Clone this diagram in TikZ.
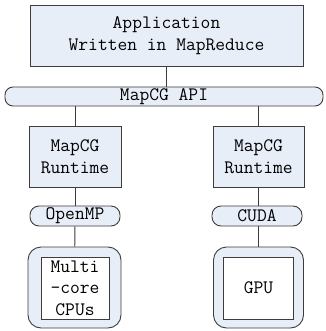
\documentclass[tikz,border=0pt]{standalone}
\usepackage{tikz}
\usepackage{xcolor}
\usetikzlibrary{positioning}
\usetikzlibrary{math}
\usetikzlibrary{calc}

\definecolor{boxfill}{RGB}{232,238,248}
\definecolor{boxline}{RGB}{60,60,60}

\tikzset{
  layer/.style={draw=boxline, fill=boxfill, line width=0.9pt, inner sep=0pt,
    align=center, font=\fontsize{19}{22}\selectfont\ttfamily},
  pill/.style={layer, rounded corners=9pt},
  device/.style={layer, rounded corners=13pt},
  chip/.style={draw=boxline, fill=white, line width=0.9pt, inner sep=0pt,
    align=center, font=\fontsize{19}{21.5}\selectfont\ttfamily},
  link/.style={draw=boxline, line width=0.9pt}
}

\begin{document}
\begin{tikzpicture}[x=1pt,y=-1pt]

  \tikzmath{
    \lx = 75;    % x of left column
    \rx = 258.5; % x of right column
  }

  \useasboundingbox (0,0) rectangle (325,331);

  % application and API
  \node[layer, minimum width=273pt, minimum height=61pt] (app) at (166.5,35.5)
  {Application\\Written in MapReduce};
  \node[layer, rounded corners=8pt, minimum width=318pt, minimum height=19pt] (api) at (164,96.5)
  {MapCG API};

  % runtimes
  \node[layer, minimum width=92pt, minimum height=61pt] (rtl) at (\lx,156.5) {MapCG\\Runtime};
  \node[layer, minimum width=91pt, minimum height=61pt] (rtr) at (\rx,156.5) {MapCG\\Runtime};

  % back ends
  \node[pill, minimum width=90pt, minimum height=20pt] (omp) at (\lx,216) {OpenMP};
  \node[pill, minimum width=90pt, minimum height=20pt] (cuda) at (257,216) {CUDA};

  % hardware
  \node[device, minimum width=93pt, minimum height=81pt] (cpubox) at (74.5,287.5) {};
  \node[chip, minimum width=68pt, minimum height=62pt] (cpu) at (\lx,288) {Multi\\-core\\CPUs};
  \node[device, minimum width=90pt, minimum height=81pt] (gpubox) at (\rx,287.5) {};
  \node[chip, minimum width=70pt, minimum height=62pt] (gpu) at (\rx,288) {GPU};

  % connectors
  \draw[link] (app.south) -- (app.south |- api.north);
  \draw[link] (rtl |- api.south) -- (rtl);
  \draw[link] (rtr |- api.south) -- (rtr);
  \draw[link] (rtl) -- (omp);
  \draw[link] (rtr) -- (rtr |- cuda.north);
  \draw[link] (omp) -- (cpubox);
  \draw[link] (cuda.south -| gpubox) -- (gpubox);

\end{tikzpicture}
\end{document}
